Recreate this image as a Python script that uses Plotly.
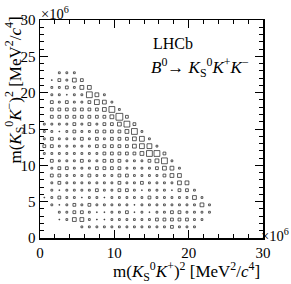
import plotly.graph_objects as go

# bin centres (units of 10^6 MeV^2/c^4)
x_centers = [0.58, 1.59, 2.60, 3.61, 4.62, 5.63, 6.64, 7.65, 8.66, 9.67, 10.68, 11.69,
             12.70, 13.71, 14.72, 15.73, 16.74, 17.75, 18.76, 19.77, 20.78, 21.79, 22.80]
y_centers = [1.53, 2.54, 3.55, 4.56, 5.57, 6.58, 7.59, 8.60, 9.61, 10.62, 11.63,
             12.64, 13.65, 14.66, 15.67, 16.68, 17.69, 18.70, 19.71, 20.72, 21.73, 22.74]

# box content per bin, rows from bottom (y_centers[0]) to top, columns along x_centers
bin_content = [
    [0, 0, 0, 0, 0, 2, 2, 2, 2, 2, 2, 2, 2, 2, 2, 2, 2, 3, 2, 2, 2, 0, 0],
    [0, 0, 1, 2, 4, 4, 2, 1, 1, 2, 2, 2, 2, 2, 2, 3, 3, 3, 3, 3, 2, 2, 0],
    [0, 0, 2, 2, 3, 3, 2, 1, 1, 2, 2, 3, 1, 2, 1, 2, 2, 3, 3, 2, 2, 2, 2],
    [0, 2, 1, 2, 3, 2, 3, 2, 2, 2, 2, 2, 1, 2, 2, 2, 2, 2, 2, 2, 2, 4, 2],
    [1, 2, 3, 2, 2, 1, 2, 2, 1, 2, 2, 2, 2, 2, 3, 2, 2, 2, 2, 2, 4, 2, 0],
    [0, 2, 1, 2, 2, 2, 2, 3, 2, 2, 3, 3, 2, 1, 2, 2, 2, 1, 3, 3, 2, 0, 0],
    [0, 2, 3, 2, 2, 2, 2, 2, 2, 2, 3, 2, 2, 3, 2, 2, 2, 2, 4, 4, 0, 0, 0],
    [0, 3, 3, 2, 2, 2, 3, 2, 2, 2, 3, 3, 2, 2, 2, 2, 3, 4, 4, 0, 0, 0, 0],
    [0, 2, 3, 3, 2, 2, 2, 3, 3, 3, 3, 2, 2, 2, 2, 3, 4, 4, 2, 0, 0, 0, 0],
    [0, 3, 2, 2, 2, 3, 2, 2, 3, 3, 3, 2, 2, 2, 3, 4, 6, 2, 0, 0, 0, 0, 0],
    [2, 2, 2, 2, 2, 2, 2, 2, 3, 3, 3, 3, 3, 4, 6, 6, 3, 0, 0, 0, 0, 0, 0],
    [3, 3, 2, 2, 2, 2, 2, 3, 3, 3, 3, 3, 4, 5, 5, 2, 0, 0, 0, 0, 0, 0, 0],
    [2, 3, 2, 2, 2, 3, 2, 3, 2, 3, 3, 3, 4, 5, 2, 0, 0, 0, 0, 0, 0, 0, 0],
    [2, 2, 1, 2, 3, 2, 2, 3, 3, 3, 3, 4, 6, 2, 0, 0, 0, 0, 0, 0, 0, 0, 0],
    [2, 2, 2, 2, 3, 2, 3, 2, 3, 3, 4, 6, 3, 0, 0, 0, 0, 0, 0, 0, 0, 0, 0],
    [0, 3, 3, 3, 3, 3, 3, 3, 3, 4, 7, 3, 0, 0, 0, 0, 0, 0, 0, 0, 0, 0, 0],
    [0, 3, 3, 3, 3, 3, 3, 3, 4, 6, 2, 0, 0, 0, 0, 0, 0, 0, 0, 0, 0, 0, 0],
    [0, 3, 2, 3, 2, 2, 3, 5, 4, 2, 0, 0, 0, 0, 0, 0, 0, 0, 0, 0, 0, 0, 0],
    [0, 2, 2, 1, 2, 2, 6, 4, 2, 0, 0, 0, 0, 0, 0, 0, 0, 0, 0, 0, 0, 0, 0],
    [0, 2, 2, 3, 2, 4, 4, 0, 0, 0, 0, 0, 0, 0, 0, 0, 0, 0, 0, 0, 0, 0, 0],
    [0, 1, 3, 2, 4, 3, 0, 0, 0, 0, 0, 0, 0, 0, 0, 0, 0, 0, 0, 0, 0, 0, 0],
    [0, 0, 2, 2, 2, 0, 0, 0, 0, 0, 0, 0, 0, 0, 0, 0, 0, 0, 0, 0, 0, 0, 0],
]

x_ticks = [0, 10, 20, 30]
y_ticks = [0, 5, 10, 15, 20, 25, 30]

xs, ys, ss = [], [], []
for j, row in enumerate(bin_content):
    for i, v in enumerate(row):
        if v > 0:
            xs.append(x_centers[i])
            ys.append(y_centers[j])
            ss.append(v - 0.2)

FONT = "Liberation Serif"
fig = go.Figure()
fig.add_trace(go.Scatter(
    x=xs, y=ys, mode="markers",
    marker=dict(symbol="square-open", size=ss, sizemode="diameter",
                color="#1a1a1a", line=dict(width=1.0, color="#1a1a1a")),
    hoverinfo="skip", showlegend=False))

axis_common = dict(
    range=[0, 30], showgrid=False, zeroline=False, showline=True,
    linecolor="black", linewidth=1.5, mirror="allticks",
    ticks="inside", ticklen=8, tickwidth=1, tickcolor="black",
    tickfont=dict(family=FONT, size=15, color="black"),
)
fig.update_xaxes(**axis_common, tickvals=x_ticks,
                 minor=dict(ticks="inside", ticklen=4, dtick=2, tickcolor="black"))
fig.update_yaxes(**axis_common, tickvals=y_ticks,
                 minor=dict(ticks="inside", ticklen=4, dtick=1, tickcolor="black"))

W, H = 291, 284
L, T = 40, 17
R = W - 263
B = H - 238
pw, ph = W - L - R, H - T - B

def px(xp):
    return (xp - L) / pw

def py(yp):
    return (H - B - yp) / ph

ann = []
ann.append(dict(text="×10<sup>6</sup>", x=px(39), y=py(10), xanchor="left", yanchor="middle",
                font=dict(family=FONT, size=14.5)))
ann.append(dict(text="×10<sup>6</sup>", x=px(291), y=py(235), xanchor="right", yanchor="middle",
                font=dict(family=FONT, size=14.5)))
ann.append(dict(text="LHCb", x=px(151), y=py(41), xanchor="left", yanchor="middle",
                font=dict(family=FONT, size=16)))
ann.append(dict(text="<i>B</i><sup>0</sup>→ <i>K</i><sub>S</sub><sup>0</sup><i>K</i><sup>+</sup><i>K</i><sup>−</sup>",
                x=px(149), y=py(65), xanchor="left", yanchor="middle",
                font=dict(family=FONT, size=17)))
ann.append(dict(text="m(<i>K</i><sub>S</sub><sup>0</sup><i>K</i><sup>+</sup>)<sup>2</sup> [MeV<sup>2</sup>/<i>c</i><sup>4</sup>]",
                x=px(262), y=py(272), xanchor="right", yanchor="middle",
                font=dict(family=FONT, size=17)))
ann.append(dict(text="m(<i>K</i><sub>S</sub><sup>0</sup><i>K</i><sup>−</sup>)<sup>2</sup> [MeV<sup>2</sup>/<i>c</i><sup>4</sup>]",
                x=px(15), y=py(12), xanchor="center", yanchor="top", textangle=-90,
                font=dict(family=FONT, size=17)))
for a in ann:
    a.update(xref="paper", yref="paper", showarrow=False)
    a["font"]["color"] = "black"

fig.update_layout(
    width=W, height=H, margin=dict(l=L, r=R, t=T, b=B),
    paper_bgcolor="white", plot_bgcolor="white",
    annotations=ann,
)
fig.write_html("out.html",
               config={"displayModeBar": False, "staticPlot": True},
               post_script="document.body.style.margin='0';document.body.style.overflow='hidden';")
